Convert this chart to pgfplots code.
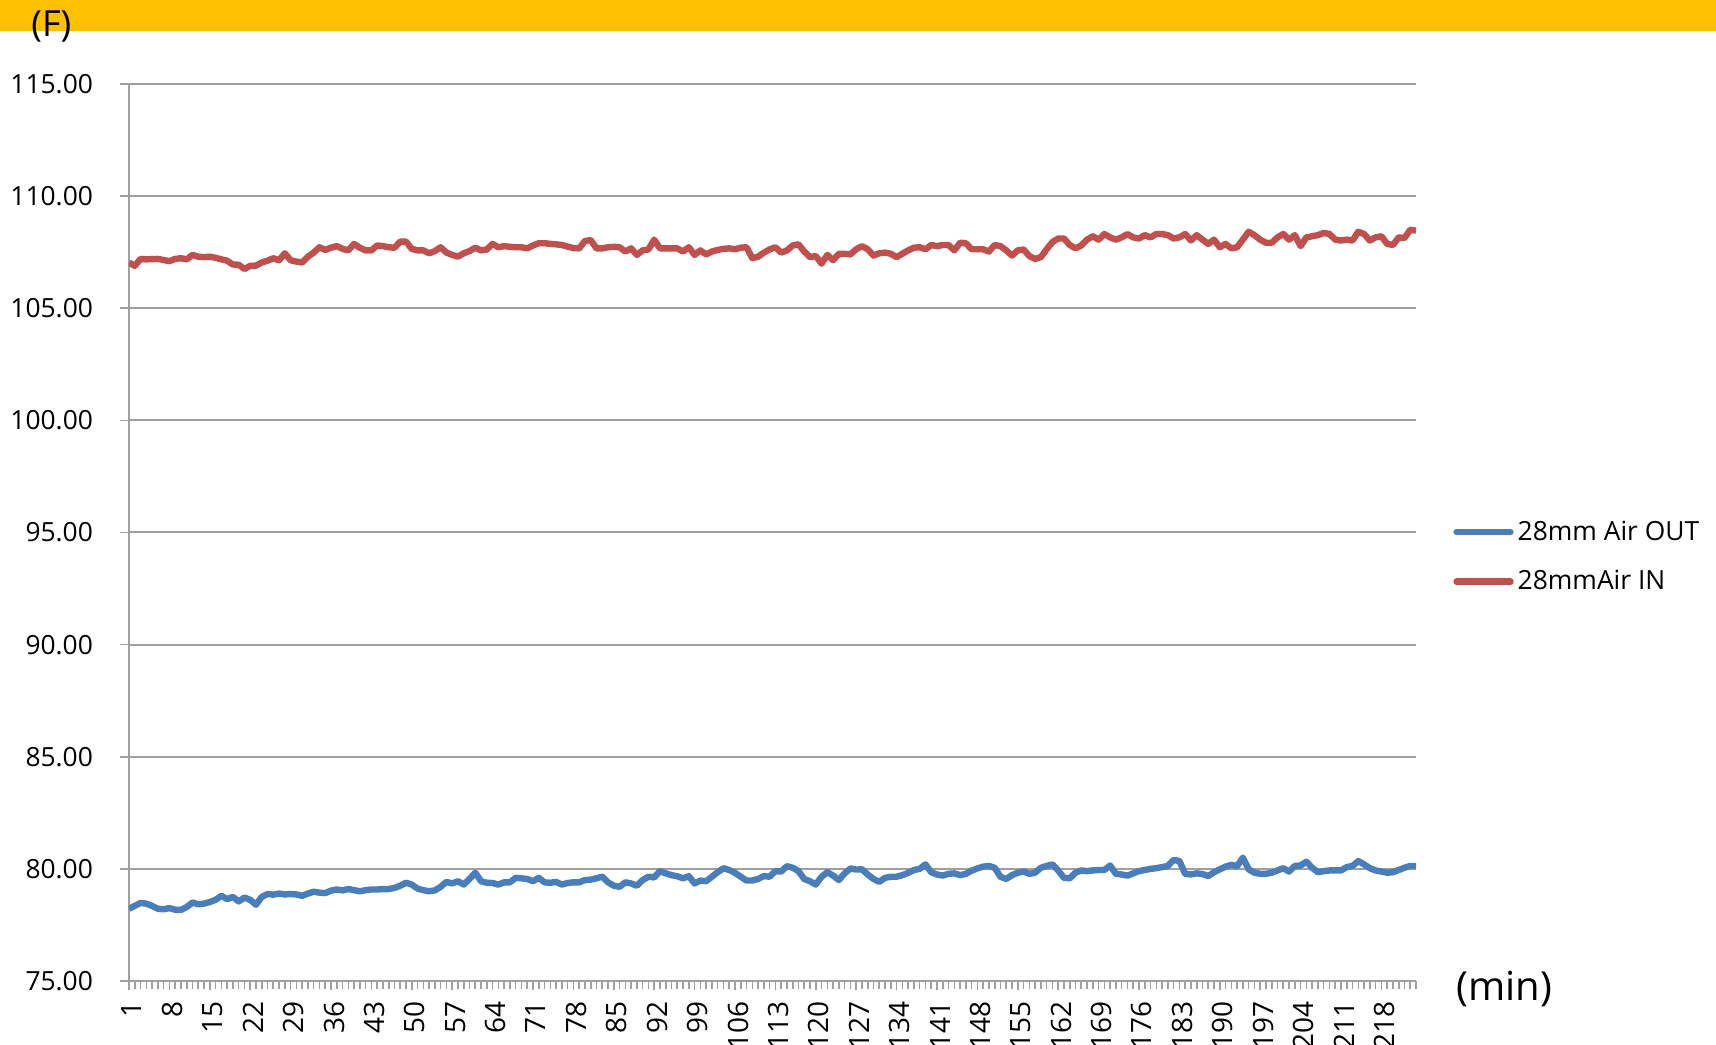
\documentclass[border=0pt]{standalone}
\usepackage{pgfplots}
\usepackage{pgfplotstable}
\usepackage{fontspec}
\setmainfont{Open Sans}
\pgfplotsset{compat=1.18}

\definecolor{bandyellow}{HTML}{FFC000}
\definecolor{outblue}{HTML}{4A7EBB}
\definecolor{inred}{HTML}{C0504D}
\definecolor{gridgray}{HTML}{A0A0A0}

% t = minute, out = 28mm Air OUT, in = 28mmAir IN
\pgfplotstableread[row sep=\\]{
t out in \\
1 78.22 107.04 \\ 2 78.35 106.89 \\ 3 78.48 107.20 \\ 4 78.45 107.18 \\ 5 78.35 107.19 \\ 6 78.22 107.20 \\ 7 78.20 107.15 \\ 8 78.25 107.10 \\
9 78.18 107.20 \\ 10 78.17 107.23 \\ 11 78.30 107.18 \\ 12 78.50 107.38 \\ 13 78.42 107.30 \\ 14 78.45 107.28 \\ 15 78.52 107.30 \\ 16 78.62 107.25 \\
17 78.80 107.18 \\ 18 78.65 107.12 \\ 19 78.75 106.95 \\ 20 78.55 106.94 \\ 21 78.72 106.75 \\ 22 78.62 106.89 \\ 23 78.40 106.90 \\ 24 78.75 107.04 \\
25 78.88 107.12 \\ 26 78.85 107.23 \\ 27 78.90 107.14 \\ 28 78.86 107.45 \\ 29 78.88 107.14 \\ 30 78.86 107.08 \\ 31 78.80 107.04 \\ 32 78.90 107.30 \\
33 78.98 107.48 \\ 34 78.94 107.72 \\ 35 78.92 107.60 \\ 36 79.03 107.70 \\ 37 79.08 107.77 \\ 38 79.04 107.65 \\ 39 79.10 107.58 \\ 40 79.05 107.87 \\
41 79.00 107.70 \\ 42 79.05 107.58 \\ 43 79.08 107.58 \\ 44 79.08 107.80 \\ 45 79.10 107.77 \\ 46 79.10 107.72 \\ 47 79.15 107.70 \\ 48 79.25 107.97 \\
49 79.38 107.97 \\ 50 79.30 107.65 \\ 51 79.12 107.58 \\ 52 79.05 107.58 \\ 53 79.00 107.45 \\ 54 79.04 107.55 \\ 55 79.20 107.72 \\ 56 79.42 107.48 \\
57 79.35 107.38 \\ 58 79.45 107.30 \\ 59 79.30 107.45 \\ 60 79.55 107.55 \\ 61 79.83 107.70 \\ 62 79.45 107.58 \\ 63 79.38 107.62 \\ 64 79.37 107.87 \\
65 79.30 107.72 \\ 66 79.40 107.77 \\ 67 79.40 107.74 \\ 68 79.60 107.72 \\ 69 79.58 107.72 \\ 70 79.55 107.67 \\ 71 79.45 107.80 \\ 72 79.60 107.90 \\
73 79.40 107.90 \\ 74 79.38 107.87 \\ 75 79.42 107.85 \\ 76 79.30 107.82 \\ 77 79.37 107.75 \\ 78 79.40 107.68 \\ 79 79.40 107.67 \\ 80 79.50 108.00 \\
81 79.52 108.04 \\ 82 79.58 107.67 \\ 83 79.65 107.67 \\ 84 79.40 107.72 \\ 85 79.25 107.74 \\ 86 79.20 107.72 \\ 87 79.40 107.53 \\ 88 79.35 107.67 \\
89 79.25 107.38 \\ 90 79.50 107.58 \\ 91 79.65 107.62 \\ 92 79.62 108.06 \\ 93 79.90 107.67 \\ 94 79.80 107.67 \\ 95 79.72 107.67 \\ 96 79.67 107.67 \\
97 79.58 107.53 \\ 98 79.67 107.72 \\ 99 79.35 107.38 \\ 100 79.48 107.58 \\ 101 79.45 107.40 \\ 102 79.65 107.53 \\ 103 79.85 107.60 \\ 104 80.03 107.65 \\
105 79.95 107.67 \\ 106 79.82 107.63 \\ 107 79.65 107.70 \\ 108 79.48 107.72 \\ 109 79.48 107.23 \\ 110 79.55 107.30 \\ 111 79.68 107.48 \\ 112 79.65 107.62 \\
113 79.90 107.72 \\ 114 79.88 107.48 \\ 115 80.12 107.58 \\ 116 80.05 107.80 \\ 117 79.90 107.85 \\ 118 79.55 107.53 \\ 119 79.45 107.28 \\ 120 79.30 107.33 \\
121 79.65 106.99 \\ 122 79.85 107.38 \\ 123 79.70 107.14 \\ 124 79.50 107.43 \\ 125 79.80 107.43 \\ 126 80.02 107.40 \\ 127 79.97 107.63 \\ 128 79.98 107.77 \\
129 79.75 107.63 \\ 130 79.55 107.35 \\ 131 79.42 107.45 \\ 132 79.60 107.48 \\ 133 79.65 107.43 \\ 134 79.65 107.28 \\ 135 79.72 107.43 \\ 136 79.82 107.58 \\
137 79.95 107.70 \\ 138 80.00 107.72 \\ 139 80.20 107.63 \\ 140 79.85 107.82 \\ 141 79.75 107.77 \\ 142 79.70 107.82 \\ 143 79.78 107.82 \\ 144 79.80 107.58 \\
145 79.72 107.92 \\ 146 79.78 107.90 \\ 147 79.92 107.63 \\ 148 80.02 107.63 \\ 149 80.10 107.63 \\ 150 80.13 107.53 \\ 151 80.05 107.82 \\ 152 79.65 107.77 \\
153 79.55 107.58 \\ 154 79.72 107.35 \\ 155 79.83 107.58 \\ 156 79.88 107.62 \\ 157 79.78 107.33 \\ 158 79.83 107.20 \\ 159 80.05 107.28 \\ 160 80.13 107.63 \\
161 80.20 107.95 \\ 162 79.93 108.11 \\ 163 79.60 108.11 \\ 164 79.58 107.82 \\ 165 79.83 107.67 \\ 166 79.93 107.80 \\ 167 79.90 108.06 \\ 168 79.93 108.21 \\
169 79.95 108.06 \\ 170 79.95 108.31 \\ 171 80.15 108.16 \\ 172 79.78 108.06 \\ 173 79.75 108.16 \\ 174 79.70 108.31 \\ 175 79.80 108.16 \\ 176 79.90 108.11 \\
177 79.95 108.26 \\ 178 80.00 108.16 \\ 179 80.03 108.31 \\ 180 80.08 108.31 \\ 181 80.13 108.26 \\ 182 80.40 108.11 \\ 183 80.35 108.16 \\ 184 79.78 108.31 \\
185 79.75 108.02 \\ 186 79.80 108.26 \\ 187 79.77 108.06 \\ 188 79.68 107.87 \\ 189 79.85 108.06 \\ 190 79.98 107.72 \\ 191 80.10 107.87 \\ 192 80.18 107.67 \\
193 80.12 107.72 \\ 194 80.50 108.06 \\ 195 79.98 108.41 \\ 196 79.83 108.26 \\ 197 79.78 108.06 \\ 198 79.78 107.92 \\ 199 79.83 107.92 \\ 200 79.93 108.16 \\
201 80.03 108.31 \\ 202 79.88 108.06 \\ 203 80.13 108.26 \\ 204 80.15 107.77 \\ 205 80.32 108.16 \\ 206 80.05 108.21 \\ 207 79.85 108.26 \\ 208 79.90 108.36 \\
209 79.93 108.31 \\ 210 79.93 108.06 \\ 211 79.93 108.02 \\ 212 80.08 108.06 \\ 213 80.13 108.02 \\ 214 80.35 108.41 \\ 215 80.20 108.31 \\ 216 80.03 108.02 \\
217 79.93 108.16 \\ 218 79.88 108.21 \\ 219 79.83 107.87 \\ 220 79.85 107.82 \\ 221 79.95 108.16 \\ 222 80.05 108.13 \\ 223 80.13 108.50 \\ 224 80.13 108.46 \\
}\airdata

\begin{document}
\begin{tikzpicture}
% page = 1716x1044 px at 0.5pt per px, origin at the axis corner
\path[use as bounding box] (-64.5pt,-31.5pt) rectangle (793.5pt,490.5pt);
\fill[bandyellow] (-64.5pt,475pt) rectangle (793.5pt,490.5pt);
\begin{axis}[
    at={(0pt,0pt)}, anchor=south west,
    scale only axis,
    width=643.5pt, height=448.5pt,
    xmin=1, xmax=224,
    ymin=75, ymax=115,
    axis x line=bottom, axis y line=left,
    axis line style={-, gridgray, line width=1pt},
    ytick={75,80,...,115},
    xtick={1,8,...,218},
    minor xtick={1,...,224},
    tick align=outside,
    major tick length=4.5pt, minor tick length=4pt,
    every tick/.style={gridgray, line width=0.8pt},
    ymajorgrids,
    grid style={gridgray, line width=1pt},
    tick label style={font=\fontsize{13.2pt}{16pt}\selectfont},
    /pgf/number format/assume math mode=true,
    yticklabel style={/pgf/number format/fixed, /pgf/number format/fixed zerofill, /pgf/number format/precision=2, xshift=-10pt},
    xticklabel shift=2pt,
    xticklabel style={font=\fontsize{14pt}{17pt}\selectfont, xshift=1.5pt, rotate=90, anchor=east},
    legend cell align=left,
    legend style={draw=none, fill=none, at={(1.024,0.4727)}, anchor=west,
        font=\fontsize{13.2pt}{16pt}\selectfont, row sep=9.5pt,
        legend image code/.code={\draw[#1, line cap=round] (0pt,0pt) -- (27pt,0pt);}},
]
\addplot[outblue, line width=3.2pt, line join=round] table[x=t, y=out] {\airdata};
\addlegendentry{28mm Air OUT}
\addplot[inred, line width=3.2pt, line join=round] table[x=t, y=in] {\airdata};
\addlegendentry{28mmAir IN}
\end{axis}
\node[anchor=west, inner sep=0pt, font=\fontsize{18pt}{21pt}\selectfont] at (-49pt,477pt) {(F)};
\node[anchor=west, inner sep=0pt, font=\fontsize{20pt}{23pt}\selectfont] at (663.5pt,-4pt) {(min)};
\end{tikzpicture}
\end{document}
